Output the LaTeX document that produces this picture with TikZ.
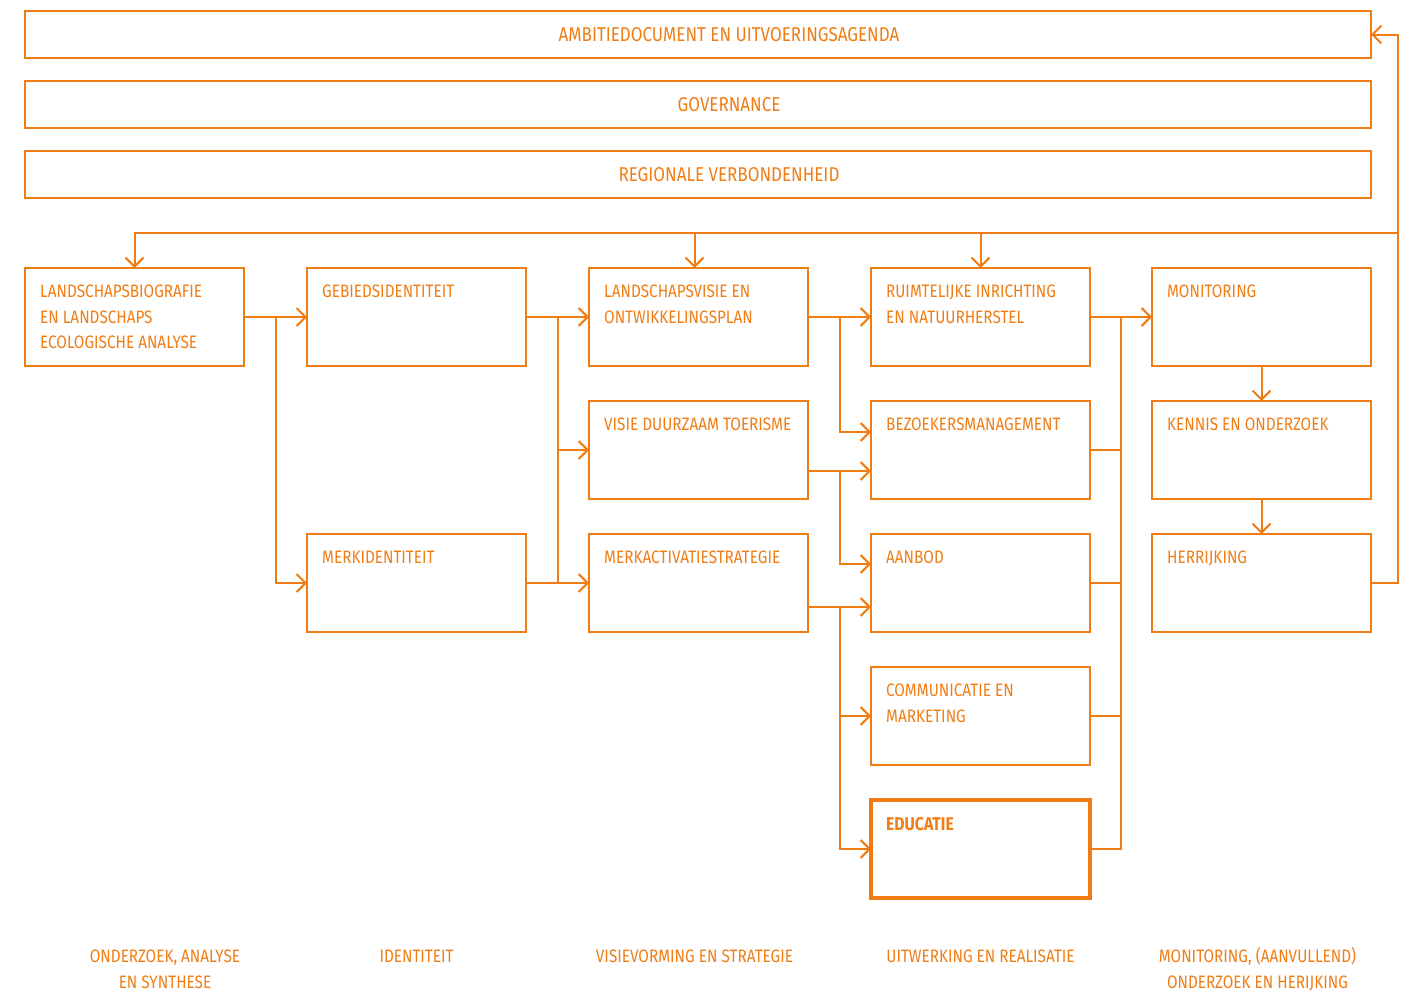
\documentclass[tikz,border=0pt]{standalone}
\usepackage{fontspec}
\setmainfont{Fira Sans}[FakeStretch=0.85]
\newfontfamily\boldfnt{Fira Sans Bold}[FakeStretch=0.85]
\usetikzlibrary{calc,arrows.meta}
\definecolor{orng}{RGB}{240,125,20}

\begin{document}
\begin{tikzpicture}[x=1pt,y=-1pt,
bar/.style={rectangle, draw=orng, line width=1.3pt, outer sep=0, minimum width=1346pt, minimum height=47pt},
bartxt/.style={inner sep=0, text=orng, font=\fontsize{20}{25.5}\selectfont},
box/.style={rectangle, draw=orng, line width=1.3pt, outer sep=0, minimum width=219pt, minimum height=98pt, inner sep=0},
lab/.style={anchor=north west, inner sep=0, align=left, text=orng, font=\fontsize{18}{25.5}\selectfont},
foot/.style={anchor=north, inner sep=0, align=center, text=orng, font=\fontsize{18}{26}\selectfont},
conn/.style={draw=orng, line width=2pt, arrows={-Straight Barb[length=9pt,width=18pt,line width=2pt]}},
line/.style={draw=orng, line width=2pt}]

\useasboundingbox (0,0) rectangle (1410,993);

% top bars
\node[bar, anchor=north west] at (25,11) (ambitie) {};
\node[bar, below] at ([yshift=-23pt]ambitie.south) (gov) {};
\node[bar, below] at ([yshift=-23pt]gov.south) (regio) {};
\node[bartxt] at ([xshift=31pt]ambitie.center) (ambitiet) {AMBITIEDOCUMENT EN UITVOERINGSAGENDA};
\node[bartxt] at ([xshift=31pt]gov.center) (govt) {GOVERNANCE};
\node[bartxt] at ([xshift=31pt]regio.center) (regiot) {REGIONALE VERBONDENHEID};

% columns
\node[box, anchor=north west] at (25,268) (lsb) {};
\node[box, right] at ([xshift=63pt]lsb.east) (gebied) {};
\node[box, right] at ([xshift=63pt]gebied.east) (lvisie) {};
\node[box, right] at ([xshift=63pt]lvisie.east) (ruimte) {};
\node[box, right] at ([xshift=62pt]ruimte.east) (monit) {};

\node[box, below] at ([yshift=-35pt]lvisie.south) (visie) {};
\node[box, below] at ([yshift=-35pt]ruimte.south) (bezoek) {};
\node[box, below] at ([yshift=-35pt]monit.south) (kennis) {};

\node[box, below] at ([yshift=-168pt]gebied.south) (merkid) {};
\node[box, below] at ([yshift=-35pt]visie.south) (merkact) {};
\node[box, below] at ([yshift=-35pt]bezoek.south) (aanbod) {};
\node[box, below] at ([yshift=-35pt]kennis.south) (herr) {};

\node[box, below] at ([yshift=-35pt]aanbod.south) (comm) {};
\node[box, below, line width=4pt] at ([yshift=-35pt]comm.south) (edu) {};

% box texts
\node[lab] at ([xshift=15pt,yshift=-17pt]lsb.north west) (lsbt) {LANDSCHAPSBIOGRAFIE\\EN LANDSCHAPS\\ECOLOGISCHE ANALYSE};
\node[lab] at ([xshift=15pt,yshift=-17pt]gebied.north west) (gebiedt) {GEBIEDSIDENTITEIT};
\node[lab] at ([xshift=15pt,yshift=-17pt]lvisie.north west) (lvisiet) {LANDSCHAPSVISIE EN\\ONTWIKKELINGSPLAN};
\node[lab] at ([xshift=15pt,yshift=-17pt]ruimte.north west) (ruimtet) {RUIMTELIJKE INRICHTING\\EN NATUURHERSTEL};
\node[lab] at ([xshift=15pt,yshift=-17pt]monit.north west) (monitt) {MONITORING};
\node[lab] at ([xshift=15pt,yshift=-17pt]visie.north west) (visiet) {VISIE DUURZAAM TOERISME};
\node[lab] at ([xshift=15pt,yshift=-17pt]bezoek.north west) (bezoekt) {BEZOEKERSMANAGEMENT};
\node[lab] at ([xshift=15pt,yshift=-17pt]kennis.north west) (kennist) {KENNIS EN ONDERZOEK};
\node[lab] at ([xshift=15pt,yshift=-17pt]merkid.north west) (merkidt) {MERKIDENTITEIT};
\node[lab] at ([xshift=15pt,yshift=-17pt]merkact.north west) (merkactt) {MERKACTIVATIESTRATEGIE};
\node[lab] at ([xshift=15pt,yshift=-17pt]aanbod.north west) (aanbodt) {AANBOD};
\node[lab] at ([xshift=15pt,yshift=-17pt]herr.north west) (herrt) {HERRIJKING};
\node[lab] at ([xshift=15pt,yshift=-17pt]comm.north west) (commt) {COMMUNICATIE EN\\MARKETING};
\node[lab, font=\fontsize{18.5}{25.5}\boldfnt] at ([xshift=15pt,yshift=-17pt]edu.north west) (edut) {EDUCATIE};

% junctions
\coordinate (j1) at ($(lsb.east)!0.5!(gebied.west)$);
\coordinate (j2) at ($(gebied.east)!0.5!(lvisie.west)$);
\coordinate (j3) at ($(lvisie.east)!0.5!(ruimte.west)$);
\coordinate (j4) at ($(ruimte.east)!0.5!(monit.west)$);
\coordinate (top) at ($(regio.south)!0.5!(lvisie.north)$);
\coordinate (rt) at ([xshift=27pt]herr.east);

% feedback loop
\draw[conn] (herr.east) -- (rt) |- (ambitie.east);
\draw[conn] (rt |- top) -| (lsb.north);
\draw[conn] ([xshift=-4pt]lvisie.north |- top) -- ([xshift=-4pt]lvisie.north);
\draw[conn] (ruimte.north |- top) -- (ruimte.north);

% column 1 -> 2
\draw[conn] (lsb.east) -- (gebied.west);
\draw[conn] (j1) |- (merkid.west);

% column 2 -> 3
\draw[conn] (gebied.east) -- (lvisie.west);
\draw[line] (j2) -- (j2 |- merkid.east);
\draw[conn] (j2 |- visie.west) -- (visie.west);
\draw[conn] (merkid.east) -- (merkact.west);

% column 3 -> 4
\draw[conn] (lvisie.east) -- (ruimte.west);
\draw[conn] (j3) |- ([yshift=-31pt]bezoek.north west);
\draw[conn] ([yshift=-21pt]visie.east) -- ([yshift=-21pt]visie.east -| bezoek.west);
\draw[conn] ([yshift=-21pt]visie.east -| j3) |- ([yshift=-30pt]aanbod.north west);
\draw[conn] ([yshift=-24pt]merkact.east) -- ([yshift=-24pt]merkact.east -| aanbod.west);
\draw[conn] ([yshift=-24pt]merkact.east -| j3) |- (comm.west);
\draw[conn] (comm.west -| j3) |- (edu.west);

% column 4 -> 5
\draw[conn] (ruimte.east) -- (monit.west);
\draw[line] (j4) |- (edu.east);
\draw[line] (bezoek.east) -- (bezoek.east -| j4);
\draw[line] (aanbod.east) -- (aanbod.east -| j4);
\draw[line] (comm.east) -- (comm.east -| j4);
\draw[conn] (monit) -- (kennis);
\draw[conn] (kennis) -- (herr);

% phases
\node[foot] at (165,944) (f1) {\strut ONDERZOEK, ANALYSE\\EN SYNTHESE};
\node[foot] at (gebied.south |- f1.north) (f2) {\strut IDENTITEIT};
\node[foot] at ([xshift=-4pt]lvisie.south |- f1.north) (f3) {\strut VISIEVORMING EN STRATEGIE};
\node[foot] at (ruimte.south |- f1.north) (f4) {\strut UITWERKING EN REALISATIE};
\node[foot] at ([xshift=-4pt]monit.south |- f1.north) (f5) {\strut MONITORING, (AANVULLEND)\\ONDERZOEK EN HERIJKING};
\end{tikzpicture}
\end{document}
